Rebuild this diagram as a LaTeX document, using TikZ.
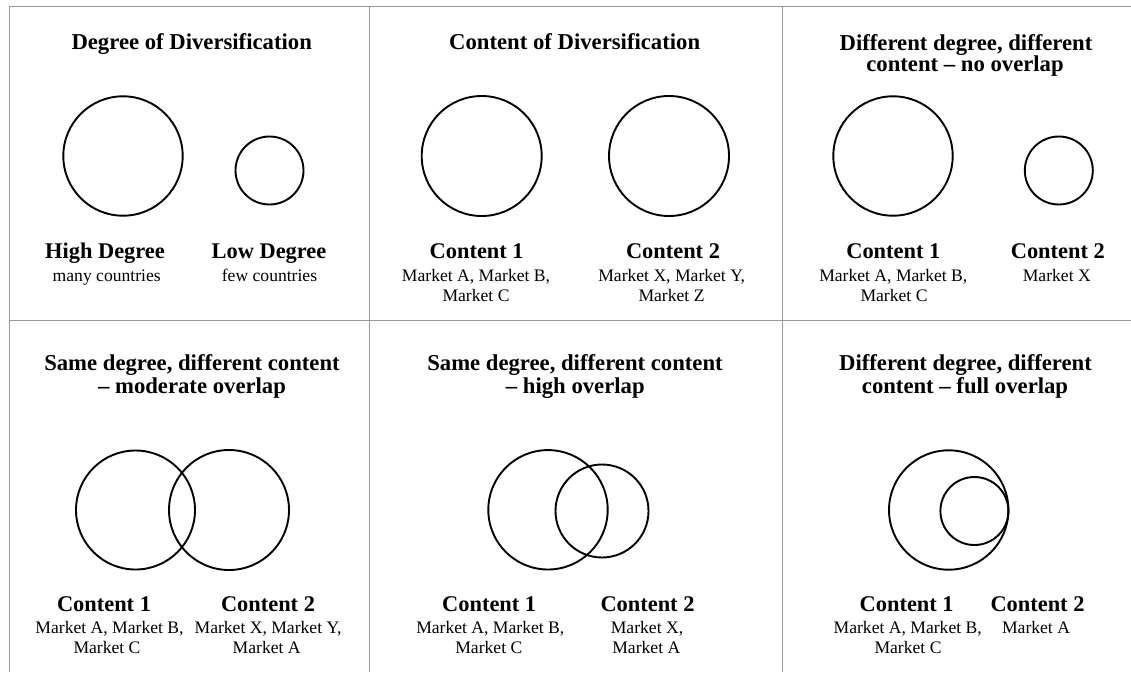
\documentclass[tikz,border=0pt]{standalone}
\usepackage{fontspec}
\setmainfont{Liberation Serif}
\begin{document}
\begin{tikzpicture}[x=1pt,y=-1pt,
  ttl/.style={font=\fontsize{22.7}{24}\selectfont\bfseries, anchor=base, inner sep=0pt},
  lbl/.style={font=\fontsize{22.4}{24}\selectfont\bfseries, anchor=base, inner sep=0pt},
  sub/.style={font=\fontsize{17.6}{20}\selectfont, anchor=base, inner sep=0pt},
  grid/.style={draw=black!40, line width=1.5pt},
  circ/.style={circle, draw=black, line width=1.9pt, inner sep=0pt, outer sep=0pt}]
\useasboundingbox (0,0) rectangle (1131,672);
% grid
\coordinate (tl) at (9.5,6.7);
\coordinate (tr) at (1131,6.7);
\coordinate (bl) at (9.5,672);
\coordinate (ml) at (9.5,320.7);
\coordinate (mr) at (1131,320.7);
\coordinate (v1t) at (369.3,6.7);
\coordinate (v1b) at (369.3,672);
\coordinate (v2t) at (782.7,6.7);
\coordinate (v2b) at (782.7,672);
\draw[grid] (tr) -- (tl) -- (bl);
\draw[grid] (ml) -- (mr);
\draw[grid] (v1t) -- (v1b);
\draw[grid] (v2t) -- (v2b);

% Panel 1
\node[ttl] (t1) at (191.7,49) {Degree of Diversification};
\node[circ, minimum size=119.4pt] (p1a) at (123,156) {};
\node[circ, minimum size=68pt] (p1b) at (269.5,170.5) {};
\node[lbl] (p1l1) at (105,258.3) {High Degree};
\node[sub] (p1s1) at (106.7,281) {many countries};
\node[lbl] (p1l2) at (269,258.3) {Low Degree};
\node[sub] (p1s2) at (269.5,281) {few countries};

% Panel 2
\node[ttl] (t2) at (574.7,49) {Content of Diversification};
\node[circ, minimum size=120pt] (p2a) at (481.7,156) {};
\node[circ, minimum size=120pt] (p2b) at (669,156) {};
\node[lbl] (p2l1) at (476.7,258.3) {Content 1};
\node[sub] (p2s1a) at (476,281.7) {Market A, Market B,};
\node[sub] (p2s1b) at (476,301.7) {Market C};
\node[lbl] (p2l2) at (673,258.3) {Content 2};
\node[sub] (p2s2a) at (671.7,281.7) {Market X, Market Y,};
\node[sub] (p2s2b) at (671.5,301.7) {Market Z};

% Panel 3
\node[ttl] (t3a) at (966,50) {Different degree, different};
\node[ttl] (t3b) at (965,71.7) {content \textendash{} no overlap};
\node[circ, minimum size=119.4pt] (p3a) at (893,156) {};
\node[circ, minimum size=68pt] (p3b) at (1058.8,170.5) {};
\node[lbl] (p3l1) at (893.3,258.3) {Content 1};
\node[sub] (p3s1a) at (893.3,281.7) {Market A, Market B,};
\node[sub] (p3s1b) at (894,301.7) {Market C};
\node[lbl] (p3l2) at (1057.8,258.3) {Content 2};
\node[sub] (p3s2a) at (1056.8,281.7) {Market X};

% Panel 4
\node[ttl] (t4a) at (192,370.5) {Same degree, different content};
\node[ttl] (t4b) at (192,393) {\textendash{} moderate overlap};
\node[circ, minimum size=119pt] (p4a) at (135.5,510) {};
\node[circ, minimum size=120pt] (p4b) at (229,510) {};
\node[lbl] (p4l1) at (104,611) {Content 1};
\node[sub] (p4s1a) at (109.5,633) {Market A, Market B,};
\node[sub] (p4s1b) at (107,653) {Market C};
\node[lbl] (p4l2) at (268,611) {Content 2};
\node[sub] (p4s2a) at (268,633) {Market X, Market Y,};
\node[sub] (p4s2b) at (266.7,653) {Market A};

% Panel 5
\node[ttl] (t5a) at (575,370.5) {Same degree, different content};
\node[ttl] (t5b) at (575.3,393) {\textendash{} high overlap};
\node[circ, minimum size=119.4pt] (p5a) at (548,509.8) {};
\node[circ, minimum size=93pt] (p5b) at (602,511) {};
\node[lbl] (p5l1) at (489.2,611) {Content 1};
\node[sub] (p5s1a) at (490.3,633) {Market A, Market B,};
\node[sub] (p5s1b) at (488.8,653) {Market C};
\node[lbl] (p5l2) at (647.5,611) {Content 2};
\node[sub] (p5s2a) at (647,633) {Market X,};
\node[sub] (p5s2b) at (646.3,653) {Market A};

% Panel 6
\node[ttl] (t6a) at (965.5,370.5) {Different degree, different};
\node[ttl] (t6b) at (965,393) {content \textendash{} full overlap};
\node[circ, minimum size=119.4pt] (p6a) at (948.7,510) {};
\node[circ, minimum size=68pt] (p6b) at (974.4,511) {};
\node[lbl] (p6l1) at (906.7,611) {Content 1};
\node[sub] (p6s1a) at (907.7,633) {Market A, Market B,};
\node[sub] (p6s1b) at (908,653) {Market C};
\node[lbl] (p6l2) at (1037.5,611) {Content 2};
\node[sub] (p6s2a) at (1036,633) {Market A};
\end{tikzpicture}
\end{document}
